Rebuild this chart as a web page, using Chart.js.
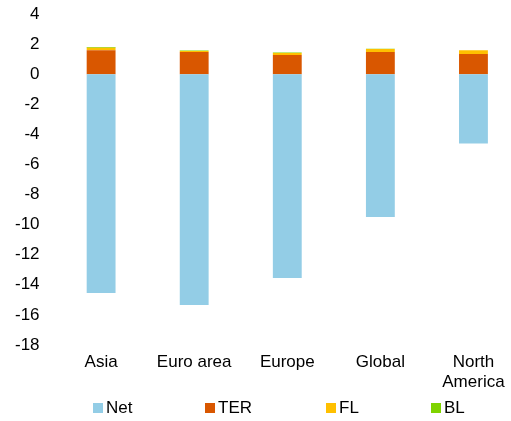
<!DOCTYPE html>
<html lang="en">
<head>
  <meta charset="UTF-8">
  <title>Net by geography</title>
  <script src="https://cdn.jsdelivr.net/npm/chart.js"></script>
  <style>
    html, body { margin: 0; padding: 0; background: #fff; overflow: hidden; }
    /* pulled up a bit so the top tick sits close to the edge */
    #wrap { position: absolute; left: 0; top: -11px; width: 520px; height: 432px; }
  </style>
</head>
<body>
  <div id="wrap"><canvas id="geoChart"></canvas></div>
<script>
    const regions = ["Asia", "Euro area", "Europe", "Global", ["North", "America"]];
    const netValues = [-14.55, -15.35, -13.55, -9.5, -4.6];
    const terValues = [1.6, 1.48, 1.28, 1.48, 1.35];
    const flValues = [0.16, 0.08, 0.14, 0.2, 0.25];
    const blValues = [0.06, 0.03, 0.03, 0.02, 0.0];
    const yTicks = [4, 2, 0, -2, -4, -6, -8, -10, -12, -14, -16, -18];

    // x of each legend box, the boxes are spread wide like in the original
    const legendX = [93, 205, 326, 431];

    Chart.defaults.font.family = "'Liberation Sans', Arial, sans-serif";
    Chart.defaults.font.size = 17;
    Chart.defaults.color = '#000';

    // legend drawn by hand, the built in one uses the same padding in both directions
    const wideLegend = {
        id: 'wideLegend',
        afterDraw: function (chart) {
            var ctx = chart.ctx;
            ctx.save();
            ctx.font = "17px 'Liberation Sans', Arial, sans-serif";
            ctx.textBaseline = 'middle';
            ctx.textAlign = 'left';
            chart.data.datasets.forEach(function (ds, i) {
                var x = legendX[i];
                var y = chart.height - 13;
                ctx.fillStyle = ds.backgroundColor;
                ctx.fillRect(x, y - 5, 10, 10);
                ctx.fillStyle = '#000';
                ctx.fillText(ds.label, x + 13, y);
            });
            ctx.restore();
        }
    };

    new Chart("geoChart", {
        type: "bar",
        data: {
            labels: regions,
            datasets: [
                { label: "Net", data: netValues, backgroundColor: "#93cde6" },
                { label: "TER", data: terValues, backgroundColor: "#d95700" },
                { label: "FL", data: flValues, backgroundColor: "#ffc000" },
                { label: "BL", data: blValues, backgroundColor: "#7fd300" }
            ]
        },
        plugins: [wideLegend],
        options: {
            responsive: true,
            maintainAspectRatio: false,
            animation: false,
            layout: { padding: { left: 0, top: 0, right: 0, bottom: 22 } },
            datasets: {
                bar: { categoryPercentage: 1, barPercentage: 0.31 }
            },
            scales: {
                x: {
                    stacked: true,
                    grid: { display: false, drawTicks: false },
                    border: { display: false },
                    ticks: { padding: 7, maxRotation: 0, autoSkip: false, font: { size: 17, lineHeight: 1.18 } }
                },
                y: {
                    stacked: true,
                    min: -18,
                    max: 4,
                    afterBuildTicks: function (axis) {
                        axis.ticks = yTicks.map(v => ({ value: v }));
                    },
                    grid: { display: false, drawTicks: false },
                    border: { display: false },
                    ticks: { padding: 15 }
                }
            },
            plugins: {
                legend: { display: false },
                tooltip: { enabled: false }
            }
        }
    });
</script>
</body>
</html>
